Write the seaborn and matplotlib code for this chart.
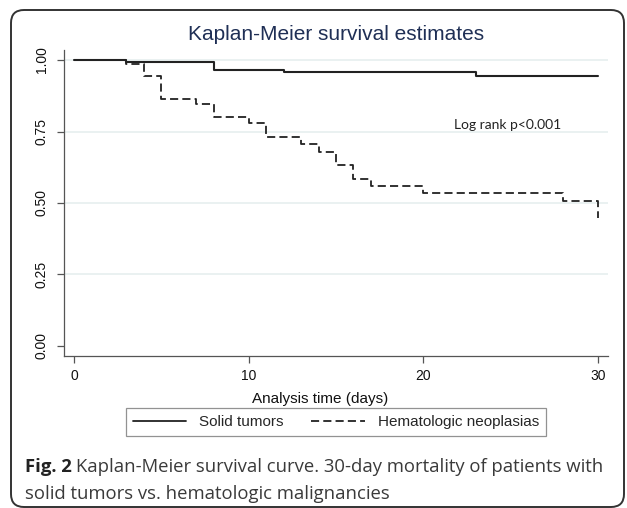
import pandas as pd
import numpy as np
import seaborn as sns
import matplotlib.pyplot as plt
from matplotlib.patches import FancyBboxPatch
from matplotlib.lines import Line2D

# survival steps
solid_time = [0, 3, 8, 12, 23, 30]
solid_surv = [1.0, 0.992, 0.966, 0.958, 0.944, 0.944]

heme_time = [0, 3, 4, 5, 7, 8, 10, 11, 13, 14, 15, 16, 17, 20, 28, 30]
heme_surv = [1.0, 0.986, 0.945, 0.865, 0.845, 0.80, 0.779, 0.731, 0.705,
             0.679, 0.633, 0.584, 0.559, 0.534, 0.507, 0.446]

groups = ['Solid tumors', 'Hematologic neoplasias']
x_ticks = [0, 10, 20, 30]
y_ticks = [0.0, 0.25, 0.5, 0.75, 1.0]

df = pd.concat([
    pd.DataFrame({'time': solid_time, 'surv': solid_surv, 'group': groups[0]}),
    pd.DataFrame({'time': heme_time, 'surv': heme_surv, 'group': groups[1]}),
])

sns.set_style("white")
plt.rcParams['font.family'] = ['Liberation Sans', 'DejaVu Sans']

fig = plt.figure(figsize=(6.27, 5.08), dpi=100)
ax = fig.add_axes([64/627, 1-356/508, 544/627, 306/508])

# light grid
for y in [0.25, 0.5, 0.75, 1.0]:
    ax.axhline(y, color='#e6efef', lw=1.2, zorder=0)

sns.lineplot(data=df, x='time', y='surv', hue='group', style='group',
             palette=['#222222', '#222222'], dashes=[(None, None), (4.5, 2.3)],
             drawstyle='steps-post', estimator=None, sort=False,
             legend=False, ax=ax)
for ln, w in zip(ax.get_lines()[-2:], [1.5, 1.3]):
    ln.set_linewidth(w)

ax.set_xlim(-0.57, 30.57)
ax.set_ylim(-0.035, 1.035)
ax.set_xticks(x_ticks)
ax.set_yticks(y_ticks)
ax.set_yticklabels([f'{v:.2f}' for v in y_ticks])
ax.tick_params(axis='both', length=5, width=0.9, color='#555555',
               labelsize=10, labelcolor='#111111', direction='out')
ax.tick_params(axis='y', pad=6)
ax.tick_params(axis='x', pad=4)
for lab in ax.get_yticklabels():
    lab.set_rotation(90)
    lab.set_va('center')
ax.tick_params(left=True, bottom=True)

for s in ['top', 'right']:
    ax.spines[s].set_visible(False)
for s in ['left', 'bottom']:
    ax.spines[s].set_color('#555555')
    ax.spines[s].set_linewidth(0.9)

ax.set_xlabel('Analysis time (days)', fontsize=11, color='#111111')
ax.set_ylabel('')
ax.xaxis.set_label_coords(0.47, -0.118)

ax.text(24.8, 0.773, 'Log rank p<0.001', ha='center', va='center',
        fontsize=10, family=['Lato', 'DejaVu Sans'], color='#222222')

fig.text(336/627, 1-35/508, 'Kaplan-Meier survival estimates',
         ha='center', va='center', fontsize=15, color='#1f2f55')

handles = [Line2D([], [], color='#222222', lw=1.3),
           Line2D([], [], color='#222222', lw=1.3, dashes=(4.5, 2.3))]
leg = fig.legend(handles, groups, loc='center', ncol=2,
                 bbox_to_anchor=(336/627, 1-422/508), fontsize=11,
                 frameon=True, fancybox=False, handlelength=3.5,
                 handletextpad=0.85, columnspacing=1.8,
                 borderpad=0.45)
leg.get_frame().set_edgecolor('#777777')
leg.get_frame().set_linewidth(0.9)

# outer rounded frame
frame = FancyBboxPatch((11/100, 1/100), 613/100, 497/100,
                       boxstyle='round,pad=0,rounding_size=0.13',
                       transform=fig.dpi_scale_trans, fill=False,
                       edgecolor='#333333', lw=1.4)
fig.patches.append(frame)

# caption
cap_font = ['Open Sans', 'DejaVu Sans']
t1 = fig.text(25/627, 1-467/508, 'Fig. 2', ha='left', va='center',
              fontsize=13.3, fontweight='bold', family=cap_font, color='#222222')
fig.canvas.draw()
bb = t1.get_window_extent()
fig.text((bb.x1 + 4)/627, 1-467/508,
         'Kaplan-Meier survival curve. 30-day mortality of patients with',
         ha='left', va='center', fontsize=13.3,
         family=cap_font, color='#3a3a3a')
fig.text(25/627, 1-494/508,
         'solid tumors vs. hematologic malignancies',
         ha='left', va='center', fontsize=13.3,
         family=cap_font, color='#3a3a3a')

fig.savefig('out.png', dpi=100)
